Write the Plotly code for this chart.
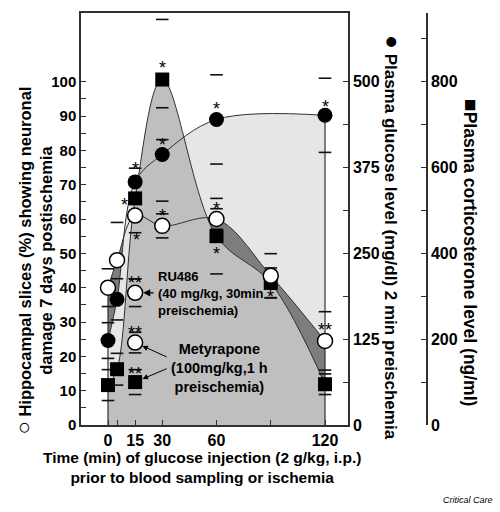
import plotly.graph_objects as go

# ---------------- data ----------------
time = [0, 5, 15, 30, 60, 90, 120]                 # min, glucose injection before sampling / ischemia
x_tick_text = ['0', '', '15', '30', '60', '', '120']

hippo_pct = [40, 48, 61, 58, 60, 43.5, 24.5]       # % slices with neuronal damage
hippo_sem = [5.5, 11, 5, 3.5, 3, 6.4, 8.5]
hippo_sig = ['', '', '*', '*', '*', '', '**']

glucose_time = [0, 5, 15, 30, 60, 120]
glucose = [123, 183, 354, 394, 445, 451]           # mg/dl
glucose_sem = [26, 30, 20, 68, 65, 54]
glucose_sig = ['', '', '*', '*', '*', '*']

cort = [93, 130, 528, 805, 440, 331, 95]           # ng/ml
cort_sem = [36, 37, 32, 140, 88, 35, 24]
cort_sig = ['', '', '*', '*', '*', '*', '']

ru486_time = [15]
ru486_hippo = [38.5]
ru486_sem = [4]
metyr_time = [15]
metyr_hippo = [24]
metyr_hippo_sem = [3]
metyr_cort = [100]
metyr_cort_sem = [29]

left_ticks = list(range(0, 101, 5))
gluc_ticks = [i * 62.5 for i in range(9)]
cort_ticks = list(range(0, 901, 100))

# ---------------- axis scaling ----------------
Y_MAX, G_MAX, C_MAX = 120, 600, 960
g_plot = [v * Y_MAX / G_MAX for v in glucose]
g_sem = [v * Y_MAX / G_MAX for v in glucose_sem]
c_plot = [v * Y_MAX / C_MAX for v in cort]
c_sem = [v * Y_MAX / C_MAX for v in cort_sem]
mc_plot = [v * Y_MAX / C_MAX for v in metyr_cort]
mc_sem = [v * Y_MAX / C_MAX for v in metyr_cort_sem]

FONT = "Liberation Sans, Arial, sans-serif"
LIGHT, MID, DARK = '#e6e6e6', '#bfbfbf', '#7d7d7d'
EDGE = '#303030'

fig = go.Figure()

def area(x, y, color):
    fig.add_trace(go.Scatter(x=x, y=y, mode='lines', fill='tozeroy', fillcolor=color,
                             line=dict(width=0, shape='spline', smoothing=1),
                             hoverinfo='skip', showlegend=False))

def curve(x, y):
    fig.add_trace(go.Scatter(x=x, y=y, mode='lines',
                             line=dict(width=1, color=EDGE, shape='spline', smoothing=1),
                             hoverinfo='skip', showlegend=False))

# shaded regions
area(glucose_time, g_plot, LIGHT)
area(time, hippo_pct, DARK)
area(glucose_time[:4], g_plot[:4], LIGHT)
area(time, c_plot, MID)

# outlines
curve(glucose_time, g_plot)
curve(time, hippo_pct)
curve(time, c_plot)
fig.add_trace(go.Scatter(x=[time[0], time[0]], y=[0, hippo_pct[0]], mode='lines',
                         line=dict(width=1.2, color=EDGE), hoverinfo='skip', showlegend=False))
fig.add_trace(go.Scatter(x=[glucose_time[-1], glucose_time[-1]], y=[0, g_plot[-1]], mode='lines',
                         line=dict(width=1.2, color=EDGE), hoverinfo='skip', showlegend=False))

# error-bar caps
def caps(x, y, e):
    xs, ys = [], []
    for xi, yi, ei in zip(x, y, e):
        xs += [xi, xi]
        ys += [yi + ei, yi - ei]
    fig.add_trace(go.Scatter(x=xs, y=ys, mode='markers',
                             marker=dict(symbol='line-ew', size=9, line=dict(width=1.6, color='#111')),
                             hoverinfo='skip', showlegend=False))

caps(time, c_plot, c_sem)
caps(metyr_time, mc_plot, mc_sem)
caps(glucose_time, g_plot, g_sem)
caps(time, hippo_pct, hippo_sem)
caps(ru486_time, ru486_hippo, ru486_sem)
caps(metyr_time, metyr_hippo, metyr_hippo_sem)

# markers
sq = dict(symbol='square', size=14, color='black')
fc = dict(symbol='circle', size=15, color='black')
oc = dict(symbol='circle', size=15, color='white', line=dict(width=1.5, color='black'))
fig.add_trace(go.Scatter(x=time, y=c_plot, mode='markers', marker=sq, name='Corticosterone', showlegend=False))
fig.add_trace(go.Scatter(x=metyr_time, y=mc_plot, mode='markers', marker=sq, showlegend=False))
fig.add_trace(go.Scatter(x=glucose_time, y=g_plot, mode='markers', marker=fc, name='Glucose', showlegend=False))
fig.add_trace(go.Scatter(x=time, y=hippo_pct, mode='markers', marker=oc, name='Hippocampal', showlegend=False))
fig.add_trace(go.Scatter(x=ru486_time, y=ru486_hippo, mode='markers', marker=oc, showlegend=False))
fig.add_trace(go.Scatter(x=metyr_time, y=metyr_hippo, mode='markers', marker=oc, showlegend=False))

# dummy traces so the right-hand axes render
fig.add_trace(go.Scatter(x=[0], y=[0], yaxis='y2', mode='markers', marker=dict(opacity=0),
                         hoverinfo='skip', showlegend=False))
fig.add_trace(go.Scatter(x=[0], y=[0], yaxis='y3', mode='markers', marker=dict(opacity=0),
                         hoverinfo='skip', showlegend=False))

# significance marks (offsets in px: xshift, yshift)
hippo_off = {2: (1, -24.5), 3: (0, 9.5), 4: (0, 10.5), 6: (0, 10.5)}
gluc_off = {2: (0, 12.5), 3: (0, 9.5), 4: (0, 10.5), 5: (0, 8.5)}
cort_off = {2: (-11, -6.5), 3: (0, 11.5), 4: (0, -17.5), 5: (0, -14.5)}

annotations = []

def star(x, y, s, dx, dy):
    annotations.append(dict(x=x, y=y, xref='x', yref='y', text=s, showarrow=False,
                            xshift=dx, yshift=dy, font=dict(family=FONT, size=18, color='black')))

for i, s in enumerate(hippo_sig):
    if s:
        star(time[i], hippo_pct[i], s, *hippo_off[i])
for i, s in enumerate(glucose_sig):
    if s:
        star(glucose_time[i], g_plot[i], s, *gluc_off[i])
for i, s in enumerate(cort_sig):
    if s:
        star(time[i], c_plot[i], s, *cort_off[i])
star(ru486_time[0], ru486_hippo[0], '**', 0, 9.5)
star(metyr_time[0], metyr_hippo[0], '**', 0, 9.5)
star(metyr_time[0], mc_plot[0], '**', 0, 8.5)

# treatment labels and arrows
annotations.append(dict(x=ru486_time[0], y=ru486_hippo[0], xref='x', yref='y',
                        text='RU486<br>(40 mg/kg, 30min<br>preischemia)', showarrow=False,
                        xanchor='left', yanchor='middle', align='left', xshift=21, yshift=-0.5,
                        font=dict(family=FONT, size=13, color='black', weight='bold')))
annotations.append(dict(x=ru486_time[0], y=ru486_hippo[0], xref='x', yref='y', text='',
                        showarrow=True, ax=20, ay=0, arrowhead=2, arrowsize=1.1, arrowwidth=1.3,
                        standoff=8, arrowcolor='black'))
annotations.append(dict(x=metyr_time[0], y=metyr_hippo[0], xref='x', yref='y',
                        text='Metyrapone<br>(100mg/kg,1 h<br>preischemia)', showarrow=False,
                        xanchor='center', yanchor='middle', align='center', xshift=84, yshift=-25,
                        font=dict(family=FONT, size=14.5, color='black', weight='bold')))
annotations.append(dict(x=metyr_time[0], y=metyr_hippo[0], xref='x', yref='y', text='',
                        showarrow=True, ax=33, ay=15, arrowhead=2, arrowsize=1.1, arrowwidth=1,
                        standoff=8, arrowcolor='black'))
annotations.append(dict(x=metyr_time[0], y=mc_plot[0], xref='x', yref='y', text='',
                        showarrow=True, ax=33, ay=-14, arrowhead=2, arrowsize=1.1, arrowwidth=1,
                        standoff=8, arrowcolor='black'))

# titles (pixel -> paper helpers)
L, R, T, B = 81, 73, 13, 87
W, H = 500, 512
PW, PH = W - L - R, H - T - B
def px(xp):
    return (xp - L) / PW
def py(yp):
    return (H - B - yp) / PH

annotations.append(dict(x=px(32.5), y=py(261), xref='paper', yref='paper', textangle=-90,
                        text="<span style='font-size:22px'>○</span> Hippocampal slices (%) showing neuronal<br>damage 7 days postischemia",
                        showarrow=False, xanchor='center', yanchor='middle', align='center',
                        font=dict(family=FONT, size=16.5, color='black', weight='bold')))
annotations.append(dict(x=px(393), y=py(237), xref='paper', yref='paper', textangle=90,
                        text="<span style='font-size:23px'>●</span> Plasma glucose level (mg/dl) 2 min preischemia",
                        showarrow=False, xanchor='center', yanchor='middle',
                        font=dict(family=FONT, size=17, color='black', weight='bold')))
annotations.append(dict(x=px(472), y=py(252), xref='paper', yref='paper', textangle=90,
                        text="<span style='font-size:21px'>■</span>Plasma corticosterone level (ng/ml)",
                        showarrow=False, xanchor='center', yanchor='middle',
                        font=dict(family=FONT, size=17.5, color='black', weight='bold')))
annotations.append(dict(x=px(202), y=py(467), xref='paper', yref='paper',
                        text="Time (min) of glucose injection (2 g/kg, i.p.)<br>prior to blood sampling or ischemia",
                        showarrow=False, xanchor='center', yanchor='middle', align='center',
                        font=dict(family=FONT, size=15.5, color='black', weight='bold')))
annotations.append(dict(x=px(495), y=py(500), xref='paper', yref='paper', text='<i>Critical Care</i>',
                        showarrow=False, xanchor='right', yanchor='middle',
                        font=dict(family=FONT, size=9, color='black')))

axis_common = dict(showgrid=False, zeroline=False, showline=True, linecolor=EDGE, linewidth=1.5,
                   ticks='inside', ticklen=5, tickwidth=1.3, tickcolor=EDGE)

x_dom_end = (348 - L) / PW
fig.update_layout(
    width=W, height=H, margin=dict(l=L, r=R, t=T, b=B),
    paper_bgcolor='white', plot_bgcolor='white', showlegend=False,
    xaxis=dict(domain=[0, x_dom_end], range=[-14.93, 132.72], tickvals=time, ticktext=x_tick_text,
               mirror=True, tickfont=dict(family=FONT, size=16, color='black', weight='bold'),
               **axis_common),
    yaxis=dict(range=[0, Y_MAX], tickvals=left_ticks,
               ticktext=[str(v) if v % 10 == 0 else '' for v in left_ticks],
               tickfont=dict(family=FONT, size=15, color='black', weight='bold'), **axis_common),
    yaxis2=dict(overlaying='y', side='right', anchor='x', range=[0, G_MAX], tickvals=gluc_ticks,
                ticktext=[('%g' % v) if v % 125 == 0 else '' for v in gluc_ticks],
                tickfont=dict(family=FONT, size=16, color='black', weight='bold'), **axis_common),
    yaxis3=dict(overlaying='y', side='right', anchor='free', position=1, range=[0, C_MAX],
                tickvals=cort_ticks, ticktext=[str(v) if v % 200 == 0 else '' for v in cort_ticks],
                tickfont=dict(family=FONT, size=16, color='black', weight='bold'), **axis_common),
    annotations=annotations,
)

fig.write_html("out.html", config={'displayModeBar': False},
               post_script="document.body.style.margin='0';document.body.style.overflow='hidden';")
